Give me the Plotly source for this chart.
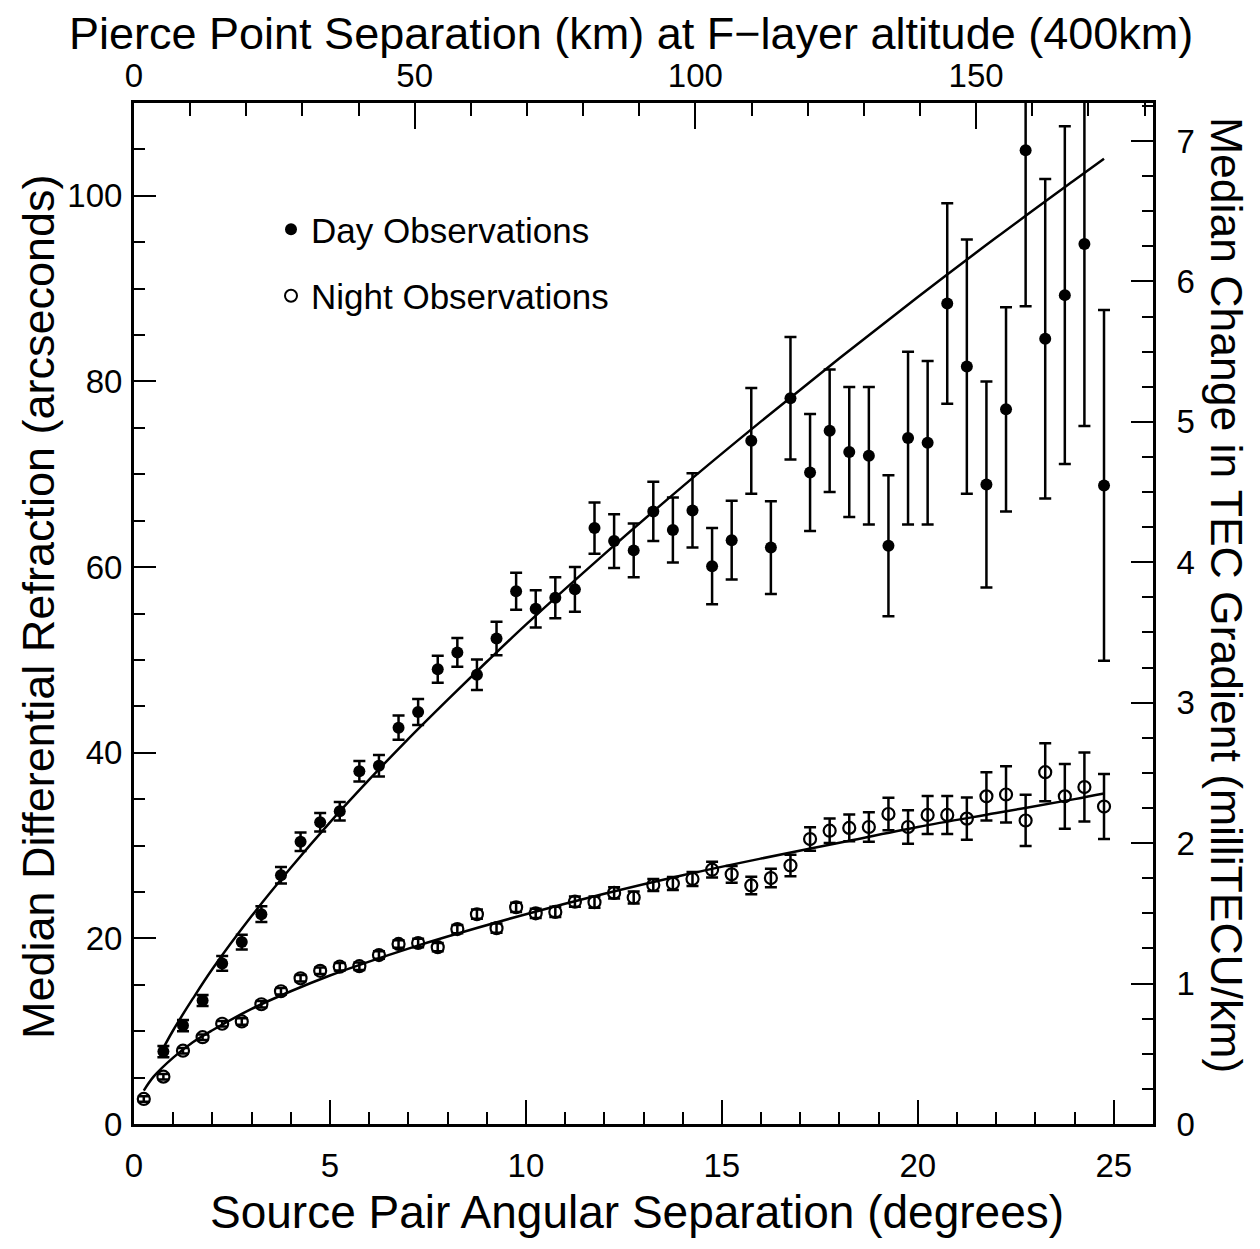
import plotly.graph_objects as go

# ---------------- data ----------------
day_x = [0.75, 1.25, 1.75, 2.25, 2.75, 3.25, 3.75, 4.25, 4.75, 5.25, 5.75, 6.25, 6.75, 7.25,
         7.75, 8.25, 8.75, 9.25, 9.75, 10.25, 10.75, 11.25, 11.75, 12.25, 12.75, 13.25, 13.75,
         14.25, 14.75, 15.25, 15.75, 16.25, 16.75, 17.25, 17.75, 18.25, 18.75, 19.25, 19.75,
         20.25, 20.75, 21.25, 21.75, 22.25, 22.75, 23.25, 23.75, 24.25, 24.75]
day_y = [7.8, 10.6, 13.3, 17.3, 19.6, 22.6, 26.8, 30.4, 32.5, 33.7, 38.0, 38.6, 42.7, 44.4,
         49.0, 50.8, 48.4, 52.3, 57.4, 55.5, 56.7, 57.6, 64.2, 62.8, 61.8, 66.0, 64.0,
         66.1, 60.1, 62.9, 73.6, 62.1, 78.2, 70.2, 74.7, 72.4, 72.0, 62.3, 73.9,
         73.4, 88.4, 81.6, 68.9, 77.0, 104.9, 84.6, 89.3, 94.8, 68.8]
day_err = [0.6, 0.6, 0.6, 0.8, 0.8, 0.85, 0.9, 1.0, 1.0, 1.0, 1.1, 1.15, 1.3, 1.4,
           1.45, 1.55, 1.65, 1.8, 2.0, 2.0, 2.2, 2.4, 2.75, 2.9, 2.9, 3.2, 3.5,
           4.0, 4.1, 4.25, 5.7, 5.0, 6.6, 6.3, 6.6, 7.0, 7.4, 7.6, 9.3,
           8.8, 10.8, 13.7, 11.1, 11.0, 16.8, 17.2, 18.2, 19.6, 18.9]

night_x = [0.25, 0.75, 1.25, 1.75, 2.25, 2.75, 3.25, 3.75, 4.25, 4.75, 5.25, 5.75, 6.25, 6.75,
           7.25, 7.75, 8.25, 8.75, 9.25, 9.75, 10.25, 10.75, 11.25, 11.75, 12.25, 12.75, 13.25,
           13.75, 14.25, 14.75, 15.25, 15.75, 16.25, 16.75, 17.25, 17.75, 18.25, 18.75, 19.25,
           19.75, 20.25, 20.75, 21.25, 21.75, 22.25, 22.75, 23.25, 23.75, 24.25, 24.75]
night_y = [2.7, 5.1, 7.9, 9.35, 10.8, 11.05, 12.9, 14.3, 15.7, 16.5, 16.95, 17.0, 18.2, 19.4,
           19.5, 19.05, 21.0, 22.6, 21.1, 23.35, 22.7, 22.85, 23.95, 23.9, 24.9, 24.4, 25.75,
           25.9, 26.4, 27.4, 26.9, 25.7, 26.5, 27.85, 30.7, 31.6, 31.9, 32.0, 33.4,
           32.0, 33.3, 33.3, 32.9, 35.3, 35.5, 32.7, 37.9, 35.3, 36.3, 34.2]
night_err = [0.3, 0.3, 0.3, 0.3, 0.3, 0.35, 0.35, 0.35, 0.35, 0.35, 0.4, 0.4, 0.4, 0.4,
             0.45, 0.45, 0.45, 0.5, 0.5, 0.5, 0.5, 0.55, 0.55, 0.6, 0.6, 0.65, 0.65,
             0.7, 0.75, 0.85, 0.9, 0.95, 1.0, 1.15, 1.27, 1.32, 1.45, 1.6, 1.74,
             1.81, 2.05, 2.05, 2.27, 2.61, 3.03, 2.76, 3.12, 3.48, 3.72, 3.5]

day_fit_x = [0.7, 1.0, 1.5, 2.0, 3.0, 4.0, 5.0, 6.0, 7.0, 8.0, 9.0, 10.0, 12.0, 14.0,
             16.0, 18.0, 20.0, 22.0, 24.0, 24.75]
day_fit_y = [7.8, 10.1, 13.5, 16.7, 22.4, 27.6, 32.5, 37.1, 41.5, 45.7, 49.8, 53.8, 61.4, 68.7,
             75.7, 82.5, 89.1, 95.5, 101.7, 104.0]

night_fit_x = [0.25, 0.5, 1.0, 1.5, 2.0, 3.0, 4.0, 5.0, 6.0, 7.0, 8.0, 10.0, 12.0, 14.0,
               16.0, 18.0, 20.0, 22.0, 24.0, 24.75]
night_fit_y = [3.6, 5.1, 7.15, 8.8, 10.1, 12.4, 14.3, 16.0, 17.5, 18.9, 20.2, 22.6, 24.8, 26.8,
               28.6, 30.3, 32.0, 33.5, 35.0, 35.6]

x_range = [0, 26]
y_range = [0, 110]
km_per_deg = 400 * 3.141592653589793 / 180.0   # pierce point separation at 400 km
arcsec_per_tec = 15.13                          # left-axis units per right-axis unit

FONT = "Liberation Sans, Arial, Helvetica, sans-serif"

# page layout (the page body adds an 8 px margin)
OFF = 8
W, H = 1252, 1241
L, R, T, B = 126, 1145, 95, 1116


def px(page_x):
    return (page_x - OFF - L) / (R - L)


def py(page_y):
    return (B - (page_y - OFF)) / (B - T)


fig = go.Figure()

# fit curves
fig.add_trace(go.Scatter(x=day_fit_x, y=day_fit_y, mode="lines",
                         line=dict(color="black", width=2.5, shape="spline"),
                         showlegend=False, hoverinfo="skip"))
fig.add_trace(go.Scatter(x=night_fit_x, y=night_fit_y, mode="lines",
                         line=dict(color="black", width=2.5, shape="spline"),
                         showlegend=False, hoverinfo="skip"))

# day observations
fig.add_trace(go.Scatter(
    x=day_x, y=day_y, mode="markers", showlegend=False,
    marker=dict(symbol="circle", size=12, color="black"),
    error_y=dict(type="data", array=day_err, visible=True, color="black", thickness=2.5, width=6)))

# night observations
fig.add_trace(go.Scatter(
    x=night_x, y=night_y, mode="markers", showlegend=False,
    marker=dict(symbol="circle-open", size=12, color="black", line=dict(width=2.2, color="black")),
    error_y=dict(type="data", array=night_err, visible=True, color="black", thickness=2.5, width=6)))

# legend entries
fig.add_trace(go.Scatter(x=[None], y=[None], mode="markers", name="Day Observations",
                         legendgroup="day",
                         marker=dict(symbol="circle", size=12, color="black")))
fig.add_trace(go.Scatter(x=[None], y=[None], mode="markers", name="Night Observations",
                         legendgroup="night",
                         marker=dict(symbol="circle-open", size=12, color="black",
                                     line=dict(width=2.2, color="black"))))

# trace attaching the secondary axes
fig.add_trace(go.Scatter(x=[None], y=[None], xaxis="x2", yaxis="y2", mode="markers",
                         showlegend=False, hoverinfo="skip"))

tickfont = dict(family=FONT, size=33, color="black")
common = dict(showline=True, linewidth=3, linecolor="black", showgrid=False, zeroline=False,
              ticks="inside", tickwidth=2, tickcolor="black", tickfont=tickfont, mirror=False)

fig.update_layout(
    width=W, height=H,
    margin=dict(l=L, r=W - R, t=T, b=H - B, pad=0),
    paper_bgcolor="white", plot_bgcolor="white",
    font=dict(family=FONT, color="black"),
    xaxis=dict(range=x_range, tickmode="linear", tick0=0, dtick=5, ticklen=24,
               minor=dict(dtick=1, ticklen=12, tickwidth=2, ticks="inside", tickcolor="black"),
               ticklabelstandoff=10, **common),
    xaxis2=dict(range=[x_range[0] * km_per_deg, x_range[1] * km_per_deg], overlaying="x",
                side="top", tickmode="linear", tick0=0, dtick=50, ticklen=26,
                minor=dict(dtick=10, ticklen=13, tickwidth=2, ticks="inside", tickcolor="black"),
                ticklabelstandoff=0, **common),
    yaxis=dict(range=y_range, tickmode="linear", tick0=0, dtick=20, ticklen=22,
               minor=dict(dtick=5, ticklen=11, tickwidth=2, ticks="inside", tickcolor="black"),
               ticklabelstandoff=2, **common),
    yaxis2=dict(range=[y_range[0] / arcsec_per_tec, y_range[1] / arcsec_per_tec], overlaying="y",
                side="right", tickmode="linear", tick0=0, dtick=1, ticklen=22,
                minor=dict(dtick=0.25, ticklen=11, tickwidth=2, ticks="inside", tickcolor="black"),
                ticklabelstandoff=14, **common),
    legend=dict(x=(263 - L) / (R - L), y=py(192 + OFF), xanchor="left", yanchor="top",
                font=dict(family=FONT, size=35, color="black"),
                bgcolor="rgba(0,0,0,0)", borderwidth=0,
                traceorder="grouped", tracegroupgap=18, itemsizing="constant"),
    showlegend=True,
)

fig.add_annotation(text="Source Pair Angular Separation (degrees)", xref="paper", yref="paper",
                   x=px(637), y=py(1212), xanchor="center", yanchor="middle",
                   showarrow=False, font=dict(family=FONT, size=46, color="black"))
fig.add_annotation(text="Pierce Point Separation (km) at F\u2212layer altitude (400km)",
                   xref="paper", yref="paper",
                   x=px(631), y=py(34), xanchor="center", yanchor="middle",
                   showarrow=False, font=dict(family=FONT, size=45, color="black"))
fig.add_annotation(text="Median Differential Refraction (arcseconds)", xref="paper", yref="paper",
                   x=px(38), y=py(607), xanchor="center", yanchor="middle",
                   textangle=-90, showarrow=False, font=dict(family=FONT, size=45, color="black"))
fig.add_annotation(text="Median Change in TEC Gradient (milliTECU/km)", xref="paper", yref="paper",
                   x=px(1227), y=py(595), xanchor="center", yanchor="middle",
                   textangle=90, showarrow=False, font=dict(family=FONT, size=44.5, color="black"))

fig.write_html("out.html")
